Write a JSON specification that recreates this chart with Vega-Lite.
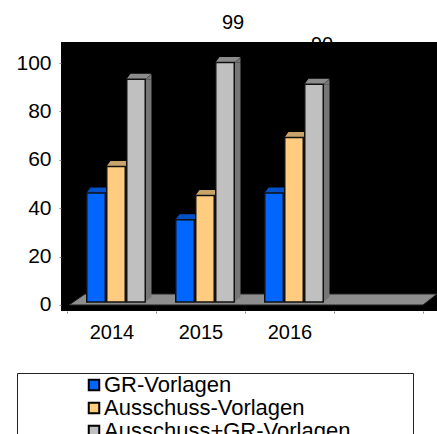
{"$schema":"https://vega.github.io/schema/vega-lite/v6.json","autosize":{"type":"none"},"padding":{"left":61,"top":42,"right":0,"bottom":123},"width":376,"height":269,"background":"white","view":{"fill":"black","stroke":null},"config":{"font":"Liberation Sans","axis":{"grid":false,"title":null,"domain":false}},
"data":{"values":[
{"jahr":"2014","serie":"GR-Vorlagen","wert":45},{"jahr":"2014","serie":"Ausschuss-Vorlagen","wert":56},{"jahr":"2014","serie":"Ausschuss+GR-Vorlagen","wert":92},
{"jahr":"2015","serie":"GR-Vorlagen","wert":34},{"jahr":"2015","serie":"Ausschuss-Vorlagen","wert":44},{"jahr":"2015","serie":"Ausschuss+GR-Vorlagen","wert":99},
{"jahr":"2016","serie":"GR-Vorlagen","wert":45},{"jahr":"2016","serie":"Ausschuss-Vorlagen","wert":68},{"jahr":"2016","serie":"Ausschuss+GR-Vorlagen","wert":90}]},
"resolve":{"scale":{"xOffset":"independent"}},
"encoding":{
"x":{"field":"jahr","type":"nominal","sort":null,"scale":{"domain":["2014","2015","2016",""],"range":[6,362],"paddingInner":0,"paddingOuter":0},"axis":{"labelAngle":0,"labelFontSize":20,"labelColor":"#000","tickBand":"extent","tickColor":"#888","tickSize":2,"labelPadding":9}},
"xOffset":{"field":"serie","type":"nominal","sort":null,"scale":{"type":"band","domain":["GR-Vorlagen","Ausschuss-Vorlagen","Ausschuss+GR-Vorlagen"],"range":[4.5,93.5],"paddingInner":0,"paddingOuter":0.725}},
"y":{"field":"wert","type":"quantitative","scale":{"domain":[-2.48,108.68],"nice":false,"zero":false},"axis":{"values":[0,20,40,60,80,100],"labelFontSize":21,"labelColor":"#000","tickColor":"#888","tickSize":2,"labelPadding":8}}},
"layer":[
{"data":{"values":[{"jahr":"2015","wert":0}]},"mark":{"type":"point","filled":true,"opacity":1,"size":4,"fill":"#8e8e8e","stroke":"#222","strokeWidth":1,"shape":"M -87 0 L -71 -11 L 281 -11 L 267 0 Z"},"encoding":{"xOffset":{"value":0}}},
{"mark":{"type":"bar","width":6,"yOffset":-3,"y2Offset":-8},"encoding":{"xOffset":{"field":"serie","type":"nominal","sort":null,"scale":{"type":"band","domain":["GR-Vorlagen","Ausschuss-Vorlagen","Ausschuss+GR-Vorlagen"],"range":[17,106],"paddingInner":0,"paddingOuter":0.725}},"y2":{"datum":0},"fill":{"condition":[{"test":"datum.serie=='GR-Vorlagen'","value":"#0048b0"},{"test":"datum.serie=='Ausschuss-Vorlagen'","value":"#b08a50"}],"value":"#767676"}}},
{"mark":{"type":"point","filled":true,"opacity":1,"size":4,"shape":"M 9.5 -3 L 15.5 -8 L 15.5 -3 Z"},"encoding":{"fill":{"condition":[{"test":"datum.serie=='GR-Vorlagen'","value":"#0048b0"},{"test":"datum.serie=='Ausschuss-Vorlagen'","value":"#b08a50"}],"value":"#767676"}}},
{"mark":{"type":"point","filled":true,"opacity":1,"size":4,"shape":"M 9.5 -3 L 15.5 -8 L 9.5 -8 Z"},"encoding":{"y":{"datum":0},"fill":{"condition":[{"test":"datum.serie=='GR-Vorlagen'","value":"#0048b0"},{"test":"datum.serie=='Ausschuss-Vorlagen'","value":"#b08a50"}],"value":"#767676"}}},
{"mark":{"type":"point","filled":true,"opacity":1,"size":4,"shape":"M -9.5 -3 L -5.5 -8.5 L 15.5 -8.5 L 9.5 -3 Z"},"encoding":{"fill":{"condition":[{"test":"datum.serie=='GR-Vorlagen'","value":"#0050c8"},{"test":"datum.serie=='Ausschuss-Vorlagen'","value":"#c8a46a"}],"value":"#8c8c8c"}}},
{"mark":{"type":"bar","width":18.5,"yOffset":-3,"y2Offset":-3,"stroke":"#111","strokeWidth":1.5},"encoding":{"y2":{"datum":0},"fill":{"field":"serie","type":"nominal","sort":null,"title":null,"scale":{"domain":["GR-Vorlagen","Ausschuss-Vorlagen","Ausschuss+GR-Vorlagen"],"range":["#0066ff","#ffcc80","#c0c0c0"]},"legend":{"orient":"none","legendX":-44,"legendY":331,"fillColor":"white","strokeColor":"#222","padding":1,"symbolType":"square","symbolSize":110,"symbolStrokeColor":"#000","symbolStrokeWidth":2,"symbolOffset":65,"labelFontSize":22,"labelColor":"#000","labelOffset":-1,"labelLimit":500,"rowPadding":1,"labelExpr":"datum.label + '\u00a0\u00a0\u00a0\u00a0\u00a0\u00a0\u00a0\u00a0\u00a0\u00a0\u200b'"}}}},
{"transform":[{"filter":"datum.serie=='Ausschuss+GR-Vorlagen' && datum.jahr!='2014'"}],"mark":{"type":"text","fontSize":20,"color":"#000","dx":8,"dy":-42,"baseline":"middle"},"encoding":{"text":{"field":"wert","type":"quantitative"}}}
]}
